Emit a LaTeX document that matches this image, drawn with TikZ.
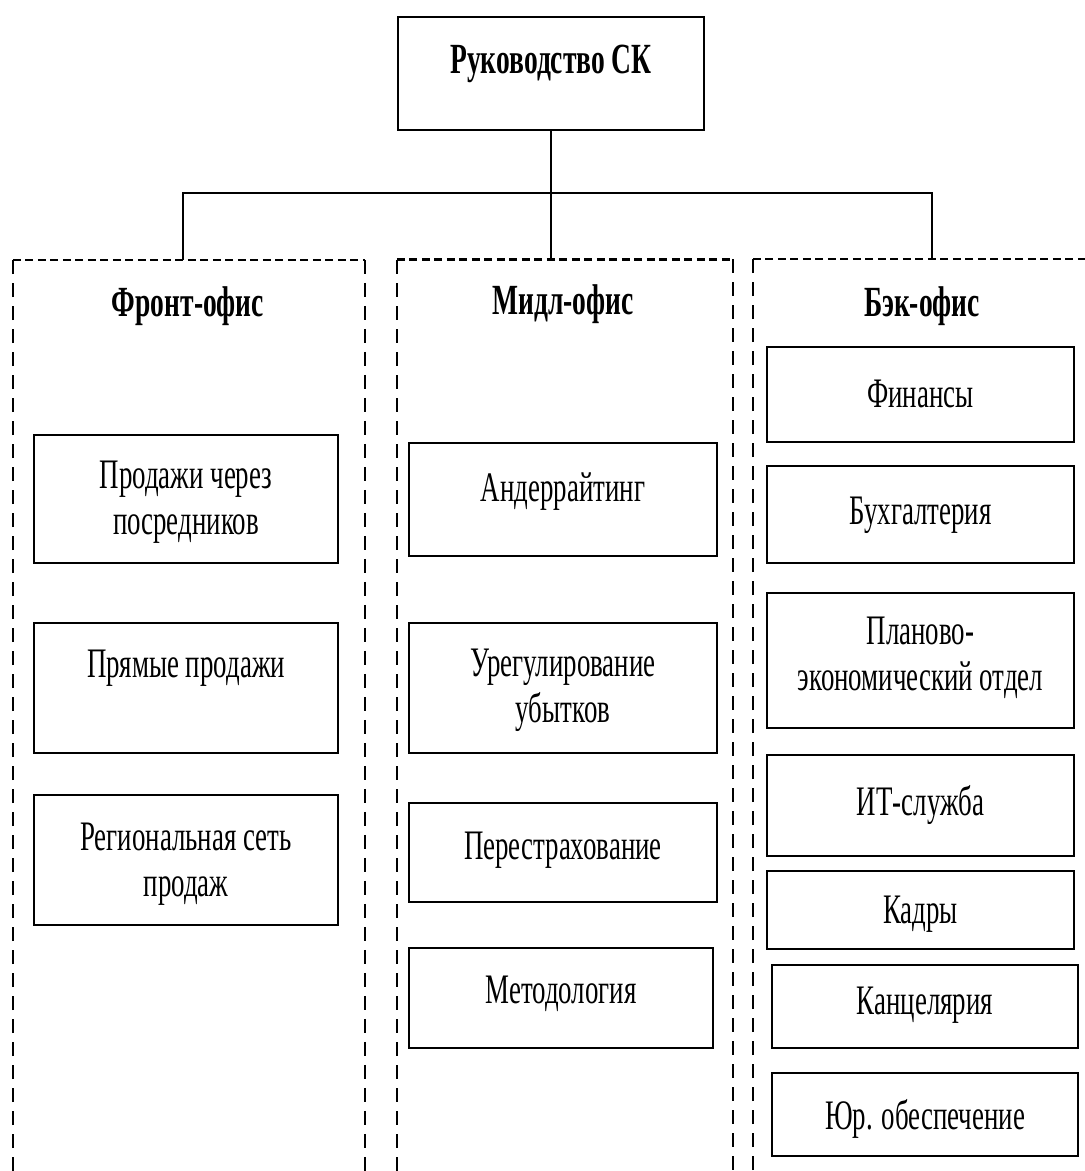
\documentclass[tikz,border=0pt]{standalone}
\usepackage{fontspec}
\setmainfont{Liberation Serif}[FakeStretch=0.64]
\begin{document}
\begin{tikzpicture}[x=1pt,y=-1pt,
  txt/.style={font=\fontsize{42}{46}\selectfont, inner sep=0pt, align=center},
  head/.style={font=\fontsize{43}{46}\selectfont\bfseries, inner sep=0pt},
  unitbox/.style={draw, line width=2.8pt, inner sep=0pt},
  colbox/.style={inner sep=0pt, minimum height=911pt},
  hdash/.style={line width=2.4pt, dash pattern=on 8pt off 4.5pt},
  vdash/.style={line width=2.4pt, dash pattern=on 14pt off 9pt},
  link/.style={line width=2.2pt}]
\useasboundingbox (0,0) rectangle (1085,1171);

% management box
\node[unitbox, minimum width=306pt, minimum height=113pt] (top) at (551,73.5) {};
\node[head] (top-t) at (551,64) {Руководство СК};

% the three office columns (open at the bottom)
\node[colbox, minimum width=352pt] (front) at (189,715.5) {};
\node[colbox, minimum width=336pt] (mid) at (565,715) {};
\node[colbox, minimum width=332pt] (back) at (919,714.5) {};

\draw[vdash] (front.south west) -- (front.north west);
\draw[hdash] (front.north west) -- (front.north east);
\draw[vdash] (front.north east) -- (front.south east);
\draw[vdash] (mid.south west) -- (mid.north west);
\draw[hdash] (mid.north west) -- (mid.north east);
\draw[vdash] (mid.north east) -- (mid.south east);
\draw[vdash] (back.south west) -- (back.north west);
\draw[hdash] (back.north west) -- (back.north east);

\node[head] (front-h) at (188,306) {Фронт-офис};
\node[head] (mid-h) at (563,304) {Мидл-офис};
\node[head] (back-h) at (922,306) {Бэк-офис};

% connectors from the management box to the columns
\coordinate (busy) at (0,193);
\coordinate (fork) at (top.south |- busy);
\coordinate (front-in) at (183,260);
\coordinate (mid-in) at (fork |- mid.north);
\coordinate (back-in) at (932,258);
\draw[link] (top.south) -- (fork);
\draw[link] (front-in) |- (fork) -| (back-in);
\draw[link] (fork) -- (mid-in);

% front office units
\node[unitbox, minimum width=304pt, minimum height=128pt] (f1) at (186,499) {};
\node[txt] (f1-t) at (186,502) {Продажи через\\посредников};
\node[unitbox, minimum width=304pt, minimum height=130pt] (f2) at (186,688) {};
\node[txt] (f2-t) at (186,668) {Прямые продажи};
\node[unitbox, minimum width=304pt, minimum height=130pt] (f3) at (186,860) {};
\node[txt] (f3-t) at (186,864) {Региональная сеть\\продаж};

% middle office units
\node[unitbox, minimum width=308pt, minimum height=113pt] (m1) at (563,499.5) {};
\node[txt] (m1-t) at (563,492) {Андеррайтинг};
\node[unitbox, minimum width=308pt, minimum height=130pt] (m2) at (563,688) {};
\node[txt] (m2-t) at (563,690) {Урегулирование\\убытков};
\node[unitbox, minimum width=308pt, minimum height=99pt] (m3) at (563,852.5) {};
\node[txt] (m3-t) at (563,850) {Перестрахование};
\node[unitbox, minimum width=304pt, minimum height=100pt] (m4) at (561,998) {};
\node[txt] (m4-t) at (561,994) {Методология};

% back office units
\node[unitbox, minimum width=307pt, minimum height=95pt] (b1) at (920.5,394.5) {};
\node[txt] (b1-t) at (920.5,394) {Финансы};
\node[unitbox, minimum width=307pt, minimum height=97pt] (b2) at (920.5,514.5) {};
\node[txt] (b2-t) at (920.5,515) {Бухгалтерия};
\node[unitbox, minimum width=307pt, minimum height=135pt] (b3) at (920.5,660.5) {};
\node[txt] (b3-t) at (920.5,658) {Планово-\\экономический отдел};
\node[unitbox, minimum width=307pt, minimum height=101pt] (b4) at (920.5,805.5) {};
\node[txt] (b4-t) at (920.5,805) {ИТ-служба};
\node[unitbox, minimum width=307pt, minimum height=78pt] (b5) at (920.5,910) {};
\node[txt] (b5-t) at (920.5,914) {Кадры};
\node[unitbox, minimum width=306pt, minimum height=83pt] (b6) at (925,1006.5) {};
\node[txt] (b6-t) at (925,1005) {Канцелярия};
\node[unitbox, minimum width=306pt, minimum height=83pt] (b7) at (925,1114.5) {};
\node[txt] (b7-t) at (925,1119) {Юр. обеспечение};
\end{tikzpicture}
\end{document}
